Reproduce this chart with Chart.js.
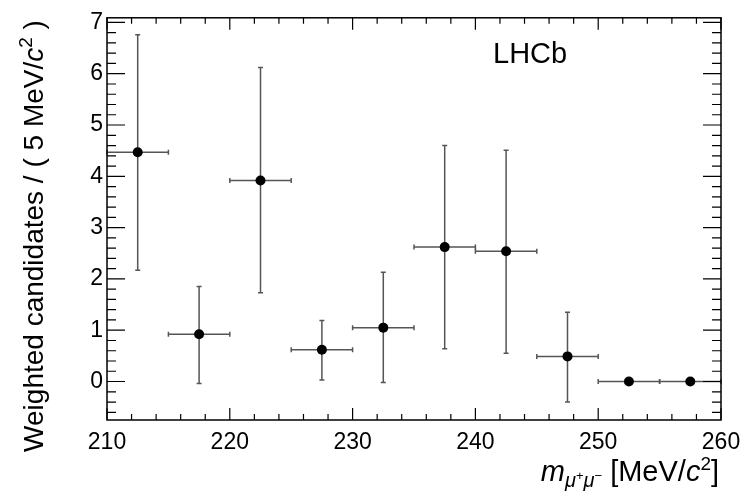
<!DOCTYPE html>
<html>
<head>
<meta charset="utf-8">
<script src="https://cdn.jsdelivr.net/npm/chart.js@4.4.1/dist/chart.umd.min.js"></script>
<style>
  html, body { margin: 0; padding: 0; background: #fff; }
</style>
</head>
<body>
<canvas id="massChart" width="751" height="497"></canvas>
<script>
// bin centres of m(mu+mu-) in MeV/c^2, 5 MeV/c^2 wide bins
const binCenters = [212.5, 217.5, 222.5, 227.5, 232.5, 237.5, 242.5, 247.5, 252.5, 257.5];
const binHalfWidth = 2.5;
const weightedCounts = [4.47, 0.92, 3.92, 0.62, 1.05, 2.62, 2.54, 0.49, 0, 0];
const errUpper = [6.76, 1.85, 6.12, 1.19, 2.13, 4.60, 4.51, 1.35, 0, 0];
const errLower = [2.17, -0.04, 1.73, 0.03, -0.02, 0.64, 0.55, -0.40, 0, 0];

const xTickValues = [210, 220, 230, 240, 250, 260];
const yTickValues = [0, 1, 2, 3, 4, 5, 6, 7];
const X_MIN = 210, X_MAX = 260;
const Y_MIN = -0.75, Y_MAX = 7.09;

const FONT = '"Liberation Sans", Arial, Helvetica, sans-serif';

// draw a list of text pieces one after another, returns total width
const measureRich = (ctx, pieces) => {
  let w = 0;
  pieces.forEach(p => {
    ctx.font = `${p.italic ? 'italic ' : ''}${p.size}px ${FONT}`;
    w += ctx.measureText(p.text).width;
  });
  return w;
};

const drawRich = (ctx, pieces, x, y) => {
  let cx = x;
  pieces.forEach(p => {
    ctx.font = `${p.italic ? 'italic ' : ''}${p.size}px ${FONT}`;
    ctx.fillText(p.text, cx, y + (p.dy || 0));
    cx += ctx.measureText(p.text).width;
  });
};

const yTitle = [
  { text: 'Weighted candidates / ( 5 MeV/', size: 28 },
  { text: 'c', size: 28, italic: true },
  { text: '2', size: 19, dy: -11 },
  { text: ' )', size: 28 }
];

const xTitle = [
  { text: 'm', size: 29, italic: true },
  { text: 'μ', size: 20, italic: true, dy: 6 },
  { text: '+', size: 13, dy: -1 },
  { text: 'μ', size: 20, italic: true, dy: 6 },
  { text: '−', size: 13, dy: -1 },
  { text: ' [MeV/', size: 29 },
  { text: 'c', size: 29, italic: true },
  { text: '2', size: 19, dy: -11 },
  { text: ']', size: 29 }
];

const errorBarPlugin = {
  id: 'errorBars',
  beforeDatasetsDraw(chart) {
    const { ctx, scales: { x, y } } = chart;
    ctx.save();
    ctx.strokeStyle = '#555';
    ctx.lineWidth = 1.5;
    binCenters.forEach((c, i) => {
      const px = x.getPixelForValue(c);
      const py = y.getPixelForValue(weightedCounts[i]);
      const xl = x.getPixelForValue(c - binHalfWidth);
      const xr = x.getPixelForValue(c + binHalfWidth);
      ctx.beginPath();
      ctx.moveTo(xl, py); ctx.lineTo(xr, py);
      ctx.moveTo(xl, py - 2.5); ctx.lineTo(xl, py + 2.5);
      ctx.moveTo(xr, py - 2.5); ctx.lineTo(xr, py + 2.5);
      if (errUpper[i] !== errLower[i]) {
        const yt = y.getPixelForValue(errUpper[i]);
        const yb = y.getPixelForValue(errLower[i]);
        ctx.moveTo(px, yt); ctx.lineTo(px, yb);
        ctx.moveTo(px - 2.5, yt); ctx.lineTo(px + 2.5, yt);
        ctx.moveTo(px - 2.5, yb); ctx.lineTo(px + 2.5, yb);
      }
      ctx.stroke();
    });
    ctx.restore();
  }
};

// ROOT-like frame with inward ticks on all four sides, plus titles
const frameTicksPlugin = {
  id: 'frameTicks',
  afterDraw(chart) {
    const { ctx, chartArea: a, scales: { x, y } } = chart;
    ctx.save();
    ctx.strokeStyle = '#000';
    ctx.lineWidth = 1.5;
    ctx.strokeRect(a.left, a.top, a.right - a.left, a.bottom - a.top);

    ctx.lineWidth = 1.2;
    ctx.beginPath();
    for (let v = X_MIN; v <= X_MAX + 1e-9; v += 2) {
      const px = x.getPixelForValue(v);
      const len = (Math.round(v) % 10 === 0) ? 12 : 6;
      ctx.moveTo(px, a.bottom); ctx.lineTo(px, a.bottom - len);
      ctx.moveTo(px, a.top); ctx.lineTo(px, a.top + len);
    }
    for (let k = Math.ceil(Y_MIN / 0.2); k * 0.2 <= Y_MAX; k++) {
      const py = y.getPixelForValue(k * 0.2);
      const len = (k % 5 === 0) ? 18 : 9;
      ctx.moveTo(a.left, py); ctx.lineTo(a.left + len, py);
      ctx.moveTo(a.right, py); ctx.lineTo(a.right - len, py);
    }
    ctx.stroke();

    ctx.fillStyle = '#000';
    ctx.textAlign = 'left';
    ctx.textBaseline = 'alphabetic';

    // x title, right aligned to the frame
    const xw = measureRich(ctx, xTitle);
    drawRich(ctx, xTitle, a.right - 2 - xw, 481);

    // y title, rotated
    const yw = measureRich(ctx, yTitle);
    ctx.save();
    ctx.translate(43, 236);
    ctx.rotate(-Math.PI / 2);
    drawRich(ctx, yTitle, -yw / 2, 0);
    ctx.restore();

    ctx.font = `29px ${FONT}`;
    ctx.fillText('LHCb', 493, 63);
    ctx.restore();
  }
};

new Chart(document.getElementById('massChart').getContext('2d'), {
  type: 'scatter',
  data: {
    datasets: [{
      label: 'Data',
      data: binCenters.map((c, i) => ({ x: c, y: weightedCounts[i] })),
      pointRadius: 5,
      pointBackgroundColor: '#000',
      pointBorderColor: '#000',
      pointBorderWidth: 0,
      showLine: false
    }]
  },
  options: {
    responsive: false,
    animation: false,
    layout: { padding: { top: 12, right: 30, left: 0, bottom: 0 } },
    plugins: {
      legend: { display: false },
      tooltip: { enabled: false }
    },
    scales: {
      x: {
        type: 'linear',
        min: X_MIN,
        max: X_MAX,
        afterBuildTicks: scale => { scale.ticks = xTickValues.map(v => ({ value: v })); },
        afterFit: scale => { scale.height = 77; },
        grid: { display: false, drawTicks: false },
        border: { display: false },
        ticks: { color: '#000', font: { family: FONT, size: 23 }, padding: 9, maxRotation: 0 }
      },
      y: {
        type: 'linear',
        min: Y_MIN,
        max: Y_MAX,
        afterBuildTicks: scale => { scale.ticks = yTickValues.map(v => ({ value: v })); },
        afterFit: scale => { scale.width = 107; },
        grid: { display: false, drawTicks: false },
        border: { display: false },
        ticks: { color: '#000', font: { family: FONT, size: 23 }, padding: 4 }
      }
    }
  },
  plugins: [errorBarPlugin, frameTicksPlugin]
});
</script>
</body>
</html>
